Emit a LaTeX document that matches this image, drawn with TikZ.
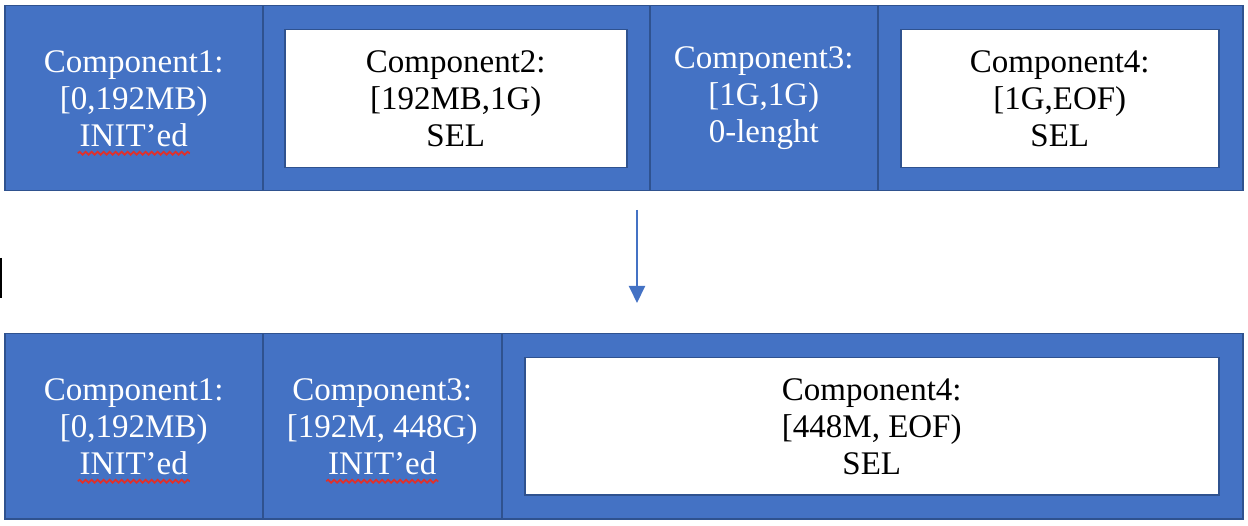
\documentclass[tikz,border=0pt]{standalone}
\usepackage{fontspec}
\setmainfont{Liberation Serif}
\usetikzlibrary{arrows.meta,decorations.pathmorphing}
\definecolor{officeblue}{HTML}{4472C4}
\definecolor{officeedge}{HTML}{2F528F}
\definecolor{spellred}{HTML}{E0302A}
\begin{document}
\begin{tikzpicture}[
    x=1pt, y=-1pt,
    cell/.style={draw=officeedge, fill=officeblue, line width=1.5pt,
      anchor=north west, minimum height=185pt, inner sep=0pt,
      text=white, align=center, font=\fontsize{33}{37}\selectfont},
    selbox/.style={cell, fill=white, text=black, minimum height=138pt},
    spellerr/.style={draw=spellred, line width=1.6pt,
      decorate, decoration={snake, amplitude=1.5pt, segment length=6pt}},
    flow/.style={draw=officeblue, line width=2pt,
      -{Triangle[width=16pt,length=17pt]}}]

  \useasboundingbox (0,0) rectangle (1248,526);

  % top row
  \node [cell, minimum width=258pt] (a1) at (4,5)
    {Component1:\\{[}0,192MB)\\INIT’ed};
  \node [cell, minimum width=387pt] (a2) at (262,5) {};
  \node [cell, minimum width=228pt] (a3) at (649,5)
    {Component3:\\{[}1G,1G)\\0-lenght};
  \node [cell, minimum width=365pt] (a4) at (877,5) {};

  \node [selbox, minimum width=342pt] (s2) at (284,29)
    {Component2:\\{[}192MB,1G)\\SEL};
  \node [selbox, minimum width=318pt] (s4) at (900,29)
    {Component4:\\{[}1G,EOF)\\SEL};

  % arrow
  \coordinate (arrtop) at (637,210);
  \coordinate (arrbot) at (637,303);
  \draw [flow] (arrtop) -- (arrbot);

  % bottom row
  \node [cell, minimum width=258pt] (b1) at (4,333)
    {Component1:\\{[}0,192MB)\\INIT’ed};
  \node [cell, minimum width=239pt] (b2) at (262,333)
    {Component3:\\{[}192M, 448G)\\INIT’ed};
  \node [cell, minimum width=741pt] (b3) at (501,333) {};

  \node [selbox, minimum width=694pt, minimum height=137pt] (s5) at (524,357)
    {Component4:\\{[}448M, EOF)\\SEL};

  % spelling marks
  \foreach \c in {a1,b1,b2}
    \draw [spellerr] ([xshift=-56pt,yshift=-55pt]\c.center) -- ++(112,0);

  % cursor
  \draw [line width=2pt] (1,258) -- (1,298);
\end{tikzpicture}
\end{document}
